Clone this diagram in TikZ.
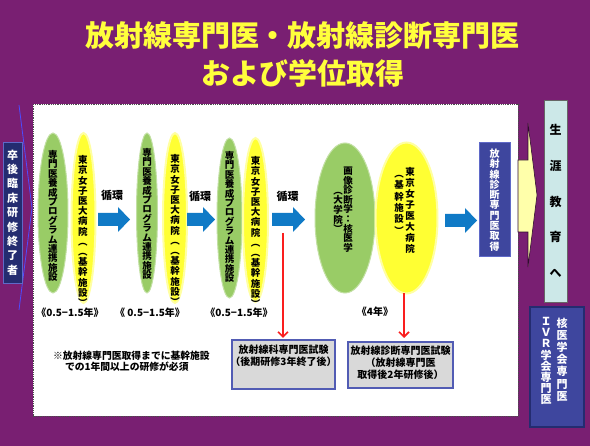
\documentclass[tikz,border=0pt]{standalone}
\usepackage{fontspec}
\setmainfont{Noto Sans CJK JP}
\usetikzlibrary{shapes.geometric,arrows.meta}
\definecolor{bgpurple}{RGB}{121,31,114}
\definecolor{ellgreen}{RGB}{153,204,102}
\definecolor{ellyellow}{RGB}{255,255,51}
\definecolor{arrblue}{RGB}{16,122,198}
\definecolor{navy}{RGB}{62,70,158}
\definecolor{navyline}{RGB}{95,105,200}
\definecolor{darknavy}{RGB}{36,44,112}
\definecolor{grayfill}{RGB}{217,217,217}
\definecolor{grayline}{RGB}{82,92,180}
\definecolor{cyanbox}{RGB}{204,232,232}
\definecolor{titleyellow}{RGB}{255,255,60}
\definecolor{lightyel}{RGB}{255,255,170}
\definecolor{redarr}{RGB}{250,30,30}
\makeatletter
\newcommand\vcol[2]{\vbox{\baselineskip=#1\relax\lineskiplimit=-100pt\relax\lineskip=0pt\relax\@tfor\vcc:=#2\do{\hbox to 1.1em{\hss\vcc\hss}}}}
\makeatother
\begin{document}
\begin{tikzpicture}[x=1pt,y=-1pt,
  every node/.style={inner sep=0pt,outer sep=0pt},
  gell/.style={ellipse,fill=ellgreen,draw=ellgreen!60!white,line width=1pt},
  yell/.style={ellipse,fill=ellyellow,draw=ellyellow!45!white,line width=2pt},
  vt/.style={font=\fontsize{9.5}{10}\selectfont\bfseries,text=black},
  lbl/.style={font=\fontsize{11}{12}\selectfont\bfseries,text=black},
  per/.style={font=\fontsize{10}{12}\selectfont\bfseries,text=black},
  blockarrow/.style={fill=arrblue},
  redline/.style={draw=redarr,line width=2pt,-{Straight Barb[length=5pt,width=10pt,line width=1.6pt]}},
  exambox/.style={draw=grayline,line width=1.3pt,fill=grayfill},
  examtext/.style={font=\fontsize{10}{12}\selectfont\bfseries,text=black,align=center},
  navybox/.style={draw=navyline,fill=navy,line width=1pt},
  wt/.style={font=\fontsize{10}{11}\selectfont\bfseries,text=white}]
% background
\fill[bgpurple] (0,0) rectangle (590,446);
\path[use as bounding box] (0,0) rectangle (590,446);
% title
\node[font=\fontsize{29}{34}\selectfont\bfseries,text=titleyellow] (t1) at (302.5,35) {放射線専門医・放射線診断専門医};
\node[font=\fontsize{29}{34}\selectfont\bfseries,text=titleyellow] (t2) at (302.5,73) {および学位取得};
% white panel
\draw[fill=white,draw=black!70,densely dotted,line width=0.8pt] (33,104) rectangle (518,416);
% entry arrow
\draw[draw=blue!70!white,line width=0.8pt] (19,105) -- (32,208) -- (19,310);
\node[draw=navyline,fill=darknavy,line width=0.8pt,minimum width=19pt,minimum height=141pt,
      font=\fontsize{11}{12}\selectfont\bfseries,text=white] (entry) at (12.5,212.5) {\vcol{14.4pt}{卒後臨床研修終了者}};
% ellipses
\node[gell,minimum width=30pt,minimum height=160pt] (g1) at (53,213) {};
\node[yell,minimum width=24pt,minimum height=170pt] (y1) at (83.5,218) {};
\node[gell,minimum width=21pt,minimum height=160pt] (g2) at (147,213) {};
\node[yell,minimum width=24pt,minimum height=170pt] (y2) at (175,218) {};
\node[gell,minimum width=25pt,minimum height=160pt] (g3) at (229.5,218) {};
\node[yell,minimum width=25pt,minimum height=164pt] (y3) at (255.5,220) {};
\node[gell,minimum width=60pt,minimum height=150pt] (g4) at (345,218) {};
\node[yell,minimum width=62pt,minimum height=151pt] (y4) at (406.5,218) {};
% ellipse texts
\node[vt] (g1t) at (53,216) {\vcol{9.4pt}{専門医養成プログラム連携施設}};
\node[vt] (y1t) at (83,231) {\vcol{10.2pt}{東京女子医大病院︵︵基幹施設︶}};
\node[vt] (g2t) at (147,214) {\vcol{9.4pt}{専門医養成プログラム連携施設}};
\node[vt] (y2t) at (175,230) {\vcol{10.2pt}{東京女子医大病院︵︵基幹施設︶}};
\node[vt] (g3t) at (229.5,217) {\vcol{9.4pt}{専門医養成プログラム連携施設}};
\node[vt] (y3t) at (255.5,232) {\vcol{10.2pt}{東京女子医大病院︵︵基幹施設︶}};
\node[vt,anchor=north] (g4a) at (348,167) {\vcol{9.6pt}{画像診断学：核医学}};
\node[vt,anchor=north] (g4b) at (338,192) {\vcol{9.6pt}{︵大学院︶}};
\node[vt,anchor=north] (y4a) at (410,167) {\vcol{11pt}{東京女子医大病院}};
\node[vt,anchor=north] (y4b) at (399,175) {\vcol{11.4pt}{︵基幹施設︶}};
% block arrows
\fill[blockarrow] (98,213) -- (118,213) -- (118,207) -- (130,219.5) -- (118,232) -- (118,226) -- (98,226) -- cycle;
\fill[blockarrow] (187,213) -- (203,213) -- (203,207) -- (215,219.5) -- (203,232) -- (203,226) -- (187,226) -- cycle;
\fill[blockarrow] (272,213) -- (293,213) -- (293,207) -- (305,219.5) -- (293,232) -- (293,226) -- (272,226) -- cycle;
\fill[blockarrow] (445,214) -- (465,214) -- (465,208) -- (477,220.5) -- (465,233) -- (465,227) -- (445,227) -- cycle;
% labels
\node[lbl] (c1) at (112,195) {循環};
\node[lbl] (c2) at (200,196) {循環};
\node[lbl] (c3) at (287.5,196) {循環};
\node[per] (p1) at (70,313) {《0.5−1.5年》};
\node[per] (p2) at (150,313) {《 0.5−1.5年》};
\node[per] (p3) at (239,313) {《0.5−1.5年》};
\node[per] (p4) at (375,312) {《4年》};
% exam boxes
\node[exambox,minimum width=103pt,minimum height=49pt] (b1) at (283.5,364.5) {};
\node[examtext,anchor=north] (b1t) at ([yshift=-4.5pt]b1.north) {放射線科専門医試験\\（後期研修3年終了後）};
\node[exambox,minimum width=105pt,minimum height=46pt] (b2) at (400.5,365) {};
\node[examtext,anchor=north] (b2t) at ([yshift=-3.5pt]b2.north) {放射線診断専門医試験\\（放射線専門医\\取得後2年研修後）};
% red arrows
\coordinate (r1s) at (283,233);
\draw[redline] (r1s) -- ([yshift=2pt]r1s |- b1.north);
\coordinate (r2s) at ([xshift=-2.5pt]y4.south);
\draw[redline] (r2s) -- ([yshift=4pt]r2s |- b2.north);
% note
\node[font=\fontsize{9.8}{11.5}\selectfont\bfseries,align=left,anchor=north west] (note) at (53,351) {※放射線専門医取得までに基幹施設\\\hspace*{12pt}での1年間以上の研修が必須};
% result box
\node[navybox,minimum width=31pt,minimum height=114pt,wt] (res) at (494.5,200) {\vcol{10.3pt}{放射線診断専門医取得}};
% lifelong arrow
\filldraw[fill=lightyel,draw=black!60!bgpurple,line width=0.6pt] (518,160) -- (528,160) -- (528,123) -- (537,195) -- (528,267) -- (528,232) -- (518,232) -- cycle;
% lifelong box
\node[draw=black!60,fill=cyanbox,line width=0.8pt,minimum width=23pt,minimum height=202pt,
      font=\fontsize{12}{13}\selectfont\bfseries,text=black] (life) at (555.5,201) {\vcol{35.8pt}{生涯教育へ}};
% society box
\node[draw=darknavy,fill=navy,line width=1.2pt,minimum width=54pt,minimum height=120pt] (soc) at (557,367) {};
\node[wt,font=\fontsize{11}{12}\selectfont\bfseries] (soc1) at (562,359.5) {\vcol{12.2pt}{核医学会専門医}};
\node[wt,font=\fontsize{11}{12}\selectfont\bfseries] (soc2) at (546,361) {\vcol{11.1pt}{ＩＶＲ学会専門医}};
\end{tikzpicture}
\end{document}
